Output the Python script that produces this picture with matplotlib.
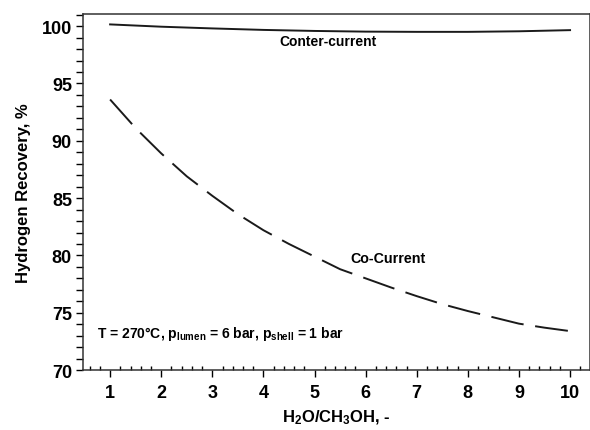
import matplotlib
matplotlib.use("Agg")
import matplotlib.pyplot as plt
from matplotlib.ticker import MultipleLocator

plt.rcParams["font.family"] = ["Liberation Sans", "DejaVu Sans"]
plt.rcParams["font.weight"] = "bold"
plt.rcParams["axes.labelweight"] = "bold"
plt.rcParams["mathtext.fontset"] = "custom"
plt.rcParams["mathtext.rm"] = "Liberation Sans:bold"
plt.rcParams["mathtext.it"] = "Liberation Sans:bold"
plt.rcParams["mathtext.bf"] = "Liberation Sans:bold"

# steam-to-methanol ratio
ratio = [1, 2, 3, 4, 5, 6, 7, 8, 9, 10]
counter_current = [100.15, 99.95, 99.8, 99.67, 99.58, 99.52, 99.5, 99.5, 99.55, 99.65]

ratio_co = [1, 1.5, 2, 2.5, 3, 3.5, 4, 4.5, 5, 5.5, 6, 6.5, 7, 7.5, 8, 8.5, 9, 9.5, 10]
co_current = [93.6, 91.1, 88.9, 86.9, 85.2, 83.6, 82.2, 81.0, 79.9, 78.8, 78.0,
              77.2, 76.45, 75.75, 75.15, 74.6, 74.05, 73.7, 73.4]

fig = plt.figure(figsize=(5.9, 4.31), dpi=100)
ax = fig.add_axes((0.1407, 0.139, 0.8593, 0.826))

ax.plot(ratio, counter_current, color="#1a1a1a", lw=1.4)
ax.plot(ratio_co, co_current, color="#1a1a1a", lw=1.4, linestyle=(0, (17, 6)))

ax.text(5.27, 98.7, "Conter-current", fontsize=10, ha="center", va="center")
ax.text(6.44, 79.75, "Co-Current", fontsize=10.3, ha="center", va="center")
ax.text(0.75, 73.2,
        r"T = 270$\degree$C, p$_{\mathrm{lumen}}$ = 6 bar, p$_{\mathrm{shell}}$ = 1 bar",
        fontsize=10, ha="left", va="center")

ax.set_xlim(0.47, 10.39)
ax.set_ylim(70, 101.05)
ax.xaxis.set_major_locator(MultipleLocator(1))
ax.xaxis.set_minor_locator(MultipleLocator(0.2))
ax.yaxis.set_major_locator(MultipleLocator(5))
ax.yaxis.set_minor_locator(MultipleLocator(1))

ax.tick_params(axis="x", which="major", direction="out", length=5, width=1,
               labelsize=13, pad=5)
ax.tick_params(axis="x", which="minor", direction="in", length=3, width=1)
ax.tick_params(axis="y", which="both", direction="out", length=5, width=1,
               labelsize=13, pad=3)
for spine in ax.spines.values():
    spine.set_linewidth(1.1)
    spine.set_color("#333333")

ax.set_xlabel(r"H$_2$O/CH$_3$OH, -", fontsize=12, labelpad=5)
ax.set_ylabel("Hydrogen Recovery, %", fontsize=12, labelpad=8)

fig.savefig("out.png", dpi=100)
